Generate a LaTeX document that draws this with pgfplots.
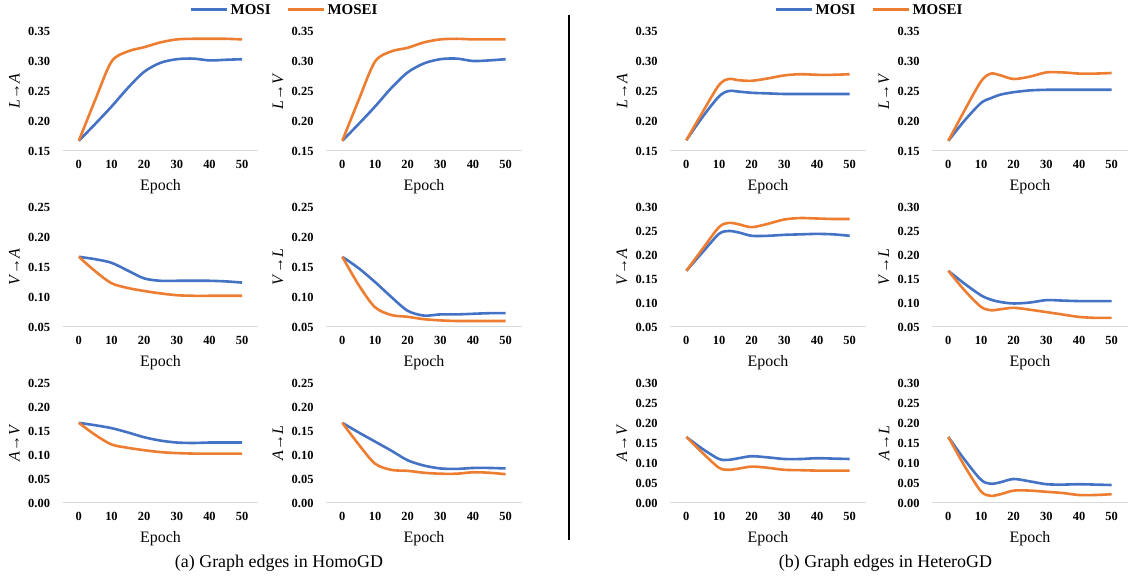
\documentclass[border=0pt]{standalone}
\usepackage{pgfplots}
\pgfplotsset{compat=1.18}
\usepackage{pgfplotstable}
\usepackage{fontspec}
\setmainfont{Liberation Serif}

\definecolor{cMosi}{HTML}{4472C4}
\definecolor{cMosei}{HTML}{ED7D31}
\definecolor{axgray}{HTML}{D9D9D9}

% homogeneous graph edges
\pgfplotstableread{
epoch mosi mosei
0  0.167 0.167
5  0.195 0.235
10 0.224 0.299
15 0.255 0.316
20 0.282 0.323
25 0.297 0.331
30 0.303 0.336
35 0.304 0.337
40 0.301 0.337
45 0.302 0.337
50 0.303 0.336
}\homoLA
\pgfplotstableread{
epoch mosi mosei
0  0.167 0.167
5  0.195 0.235
10 0.224 0.299
15 0.255 0.316
20 0.281 0.322
25 0.296 0.331
30 0.303 0.336
35 0.304 0.337
40 0.300 0.336
45 0.301 0.336
50 0.303 0.336
}\homoLV
\pgfplotstableread{
epoch mosi mosei
0  0.167 0.167
5  0.163 0.143
10 0.157 0.123
15 0.144 0.115
20 0.131 0.110
25 0.127 0.106
30 0.127 0.103
35 0.127 0.102
40 0.127 0.102
45 0.126 0.102
50 0.124 0.102
}\homoVA
\pgfplotstableread{
epoch mosi mosei
0  0.167 0.167
5  0.148 0.120
10 0.125 0.083
15 0.100 0.070
20 0.077 0.067
25 0.069 0.063
30 0.071 0.061
35 0.071 0.060
40 0.072 0.060
45 0.073 0.060
50 0.073 0.060
}\homoVL
\pgfplotstableread{
epoch mosi mosei
0  0.167 0.167
5  0.162 0.142
10 0.156 0.122
15 0.147 0.115
20 0.137 0.110
25 0.130 0.106
30 0.126 0.104
35 0.125 0.103
40 0.126 0.103
45 0.126 0.103
50 0.126 0.103
}\homoAV
\pgfplotstableread{
epoch mosi mosei
0  0.167 0.167
5  0.147 0.122
10 0.128 0.082
15 0.109 0.069
20 0.089 0.067
25 0.078 0.063
30 0.072 0.061
35 0.071 0.061
40 0.073 0.064
45 0.073 0.063
50 0.072 0.060
}\homoAL

% heterogeneous graph edges
\pgfplotstableread{
epoch mosi mosei
0  0.168 0.168
5  0.207 0.215
10 0.241 0.260
13 0.250 0.270
16 0.249 0.268
20 0.247 0.267
25 0.246 0.271
30 0.245 0.276
35 0.245 0.278
40 0.245 0.277
45 0.245 0.277
50 0.245 0.278
}\hetLA
\pgfplotstableread{
epoch mosi mosei
0  0.167 0.167
5  0.201 0.218
10 0.230 0.266
13 0.238 0.279
16 0.244 0.276
20 0.248 0.270
25 0.251 0.274
30 0.252 0.281
35 0.252 0.281
40 0.252 0.279
45 0.252 0.279
50 0.252 0.280
}\hetLV
\pgfplotstableread{
epoch mosi mosei
0  0.167 0.167
5  0.206 0.213
10 0.244 0.258
13 0.250 0.267
16 0.247 0.264
20 0.240 0.258
25 0.240 0.265
30 0.242 0.274
35 0.243 0.277
40 0.244 0.276
45 0.243 0.275
50 0.240 0.275
}\hetVA
\pgfplotstableread{
epoch mosi mosei
0  0.167 0.167
5  0.140 0.126
10 0.116 0.092
13 0.107 0.085
16 0.102 0.087
20 0.099 0.090
25 0.101 0.086
30 0.106 0.081
35 0.105 0.076
40 0.104 0.071
45 0.104 0.069
50 0.104 0.069
}\hetVL
\pgfplotstableread{
epoch mosi mosei
0  0.165 0.165
5  0.135 0.125
10 0.110 0.088
13 0.108 0.083
16 0.112 0.086
20 0.117 0.091
25 0.114 0.088
30 0.110 0.083
35 0.110 0.082
40 0.112 0.081
45 0.111 0.081
50 0.110 0.081
}\hetAV
\pgfplotstableread{
epoch mosi mosei
0  0.165 0.165
5  0.108 0.092
10 0.058 0.029
13 0.048 0.018
16 0.052 0.022
20 0.060 0.031
25 0.054 0.031
30 0.047 0.028
35 0.046 0.025
40 0.047 0.020
45 0.046 0.020
50 0.045 0.022
}\hetAL

\pgfplotsset{
  edgeplot/.style={
    width=196bp, height=120bp, scale only axis,
    anchor=south west,
    xmin=-5, xmax=55, xtick={0,10,20,30,40,50},
    axis lines*=left,
    y axis line style={draw=none},
    x axis line style={draw=axgray, line width=1bp},
    major tick length=0pt,
    tick label style={font=\fontsize{12.5}{14}\selectfont\bfseries},
    /pgf/number format/assume math mode=true,
    yticklabel style={/pgf/number format/.cd, fixed, fixed zerofill, precision=2, /tikz/.cd, xshift=-9bp},
    xticklabel style={yshift=-6bp},
    xlabel={Epoch},
    xlabel style={font=\fontsize{16}{18}\selectfont, yshift=-4bp},
    ylabel style={font=\fontsize{16}{18}\selectfont, at={(axis description cs:-0.245,0.5)}, anchor=center},
    clip=false,
    legend image code/.code={\draw[#1, line width=3bp] (0bp,0bp) -- (36bp,0bp);},
    legend style={draw=none, fill=none, anchor=center, legend columns=2,
      font=\fontsize{15}{17}\selectfont\bfseries,
      /tikz/every even column/.append style={column sep=14bp}},
  },
}

% x, y (in bp), table, ymin, ymax, ytick, ylabel, extra options
\newcommand{\panel}[8]{%
\begin{axis}[edgeplot, at={(#1bp,#2bp)}, ymin=#4, ymax=#5, ytick={#6}, ylabel={#7}, #8]
\addplot[cMosi, line width=2.6bp, smooth] table[x=epoch, y=mosi]{#3};
\addplot[cMosei, line width=2.6bp, smooth] table[x=epoch, y=mosei]{#3};
\end{axis}}

\begin{document}
\begin{tikzpicture}
\path[use as bounding box] (0bp,0bp) rectangle (1128bp,577bp);

\panel{62.5}{426}{\homoLA}{0.15}{0.35}{0.15,0.20,0.25,0.30,0.35}{\textit{L}→\textit{A}}%
  {legend entries={MOSI,MOSEI}, legend style={at={(axis description cs:1.133,1.175)}}}
\panel{326}{426}{\homoLV}{0.15}{0.35}{0.15,0.20,0.25,0.30,0.35}{\textit{L}→\textit{V}}{}
\panel{62.5}{250}{\homoVA}{0.05}{0.25}{0.05,0.10,0.15,0.20,0.25}{\textit{V}→\textit{A}}{}
\panel{326}{250}{\homoVL}{0.05}{0.25}{0.05,0.10,0.15,0.20,0.25}{\textit{V}→\textit{L}}{}
\panel{62.5}{74}{\homoAV}{0}{0.25}{0,0.05,0.10,0.15,0.20,0.25}{\textit{A}→\textit{V}}{}
\panel{326}{74}{\homoAL}{0}{0.25}{0,0.05,0.10,0.15,0.20,0.25}{\textit{A}→\textit{L}}{}

\panel{670}{426}{\hetLA}{0.15}{0.35}{0.15,0.20,0.25,0.30,0.35}{\textit{L}→\textit{A}}%
  {legend entries={MOSI,MOSEI}, legend style={at={(axis description cs:1.018,1.175)}}}
\panel{932}{426}{\hetLV}{0.15}{0.35}{0.15,0.20,0.25,0.30,0.35}{\textit{L}→\textit{V}}{}
\panel{670}{250}{\hetVA}{0.05}{0.30}{0.05,0.10,0.15,0.20,0.25,0.30}{\textit{V}→\textit{A}}{}
\panel{932}{250}{\hetVL}{0.05}{0.30}{0.05,0.10,0.15,0.20,0.25,0.30}{\textit{V}→\textit{L}}{}
\panel{670}{74}{\hetAV}{0}{0.30}{0,0.05,0.10,0.15,0.20,0.25,0.30}{\textit{A}→\textit{V}}{}
\panel{932}{74}{\hetAL}{0}{0.30}{0,0.05,0.10,0.15,0.20,0.25,0.30}{\textit{A}→\textit{L}}{}

\draw[line width=2bp] (569bp,562bp) -- (569bp,37bp);
\node[font=\fontsize{18}{20}\selectfont] at (279bp,14bp) {(a) Graph edges in HomoGD};
\node[font=\fontsize{18}{20}\selectfont] at (885.5bp,14bp) {(b) Graph edges in HeteroGD};
\end{tikzpicture}
\end{document}
